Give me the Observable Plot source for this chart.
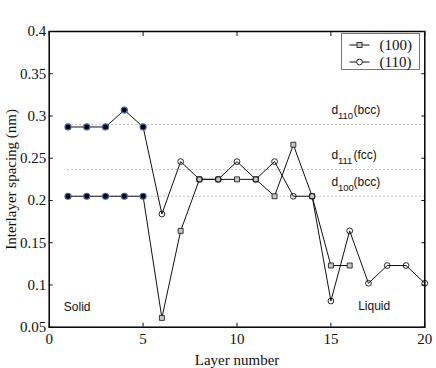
<!DOCTYPE html>
<html><head><meta charset="utf-8">
<script src="https://cdn.jsdelivr.net/npm/d3@7"></script>
<script src="https://cdn.jsdelivr.net/npm/@observablehq/plot@0.6"></script>
<style>
body{margin:0;background:#fff;}
#chart{position:relative;width:436px;height:368px;}
</style></head><body><div id="chart"></div>
<script>
const layers100 = [1,2,3,4,5,6,7,8,9,10,11,12,13,14,15,16];
const spacing100 = [0.205,0.205,0.205,0.205,0.205,0.061,0.164,0.225,0.225,0.225,0.225,0.205,0.266,0.205,0.123,0.123];
const layers110 = [1,2,3,4,5,6,7,8,9,10,11,12,13,14,15,16,17,18,19,20];
const spacing110 = [0.287,0.287,0.287,0.307,0.287,0.184,0.246,0.225,0.225,0.246,0.225,0.246,0.205,0.205,0.081,0.164,0.102,0.123,0.123,0.102];
const solidLastLayer = 5;
const seriesNames = ["(100)","(110)"];

const refSubscripts = ["110","111","100"];
const refPhases = ["(bcc)","(fcc)","(bcc)"];
const refValues = [0.290,0.2366,0.205];
const refLabelY = [0.307,0.2535,0.2215];
const refLabelX = [15.03,15.03,15.03];
const refStart = [1,1,1];
const refEnd = [20,20,20];

const regionNames = ["Solid","Liquid"];
const regionX = [0.78,16.45];
const regionY = [0.0738,0.0745];

const xTicks = [0,5,10,15,20];
const yTicks = [0.05,0.1,0.15,0.2,0.25,0.3,0.35,0.4];

const s100 = layers100.map((x,i)=>({x, y:spacing100[i]}));
const s110 = layers110.map((x,i)=>({x, y:spacing110[i]}));
const refs = refValues.map((v,i)=>({v, sub:refSubscripts[i], phase:refPhases[i], lx:refLabelX[i], ly:refLabelY[i], x1:refStart[i], x2:refEnd[i]}));
const regions = regionNames.map((t,i)=>({t, x:regionX[i], y:regionY[i]}));
const solidPts = [...s100, ...s110].filter(d=>d.x<=solidLastLayer);

const sans = "Liberation Sans, Arial, sans-serif";
const fmt = d3.format("~g");

const chart = Plot.plot({
  width: 436, height: 368,
  marginLeft: 48.7, marginRight: 11.7, marginTop: 31, marginBottom: 41.3,
  style: {fontFamily: "Liberation Serif, Times New Roman, serif", fontSize: "15px", color: "#111", background: "#fff"},
  x: {domain: [0,20]},
  y: {domain: [0.05,0.4]},
  marks: [
    Plot.ruleY(refs, {y:"v", x1:"x1", x2:"x2", stroke:"#9a9a9a", strokeWidth:1, strokeDasharray:"1.2,2.8"}),
    Plot.line(s100, {x:"x", y:"y", stroke:"#111", strokeWidth:1}),
    Plot.line(s110, {x:"x", y:"y", stroke:"#111", strokeWidth:1}),
    Plot.dot(s100.filter(d=>d.x>solidLastLayer), {x:"x", y:"y", symbol:"square", r:2.8, fill:"#c8c8c8", stroke:"#222", strokeWidth:0.9}),
    Plot.dot(s110.filter(d=>d.x>solidLastLayer), {x:"x", y:"y", symbol:"circle", r:2.9, fill:"none", stroke:"#111", strokeWidth:0.9}),
    Plot.dot(solidPts, {x:"x", y:"y", r:3, fill:"#000", stroke:"#4a5fa8", strokeWidth:1.2}),
    Plot.text(refs, {x:"lx", y:"ly", text:()=>"d", textAnchor:"start", fontFamily:sans, fontSize:12, fill:"#111"}),
    Plot.text(refs, {x:"lx", y:"ly", text:"sub", textAnchor:"start", dx:6.5, dy:5.5, fontFamily:sans, fontSize:9.5, fill:"#111"}),
    Plot.text(refs, {x:"lx", y:"ly", text:"phase", textAnchor:"start", dx:22, fontFamily:sans, fontSize:12, fill:"#111"}),
    Plot.text(regions, {x:"x", y:"y", text:"t", textAnchor:"start", fontFamily:sans, fontSize:12, fill:"#111"}),
    Plot.frame({stroke:"#000", strokeWidth:1.5}),
    Plot.axisX(xTicks, {anchor:"bottom", tickSize:0, tickPadding:6, tickFormat:fmt, label:"Layer number", labelAnchor:"center", labelArrow:"none", labelOffset:38}),
    Plot.axisX(xTicks, {anchor:"bottom", tickSize:-4, tickFormat:()=>"", label:null}),
    Plot.axisX(xTicks, {anchor:"top", tickSize:-4, tickFormat:()=>"", label:null}),
    Plot.axisY(yTicks, {anchor:"left", tickSize:0, tickPadding:3, tickFormat:fmt, label:"Interlayer spacing (nm)", labelAnchor:"center", labelArrow:"none", labelOffset:44}),
    Plot.axisY(yTicks, {anchor:"left", tickSize:-4, tickFormat:()=>"", label:null}),
    Plot.axisY(yTicks, {anchor:"right", tickSize:-4, tickFormat:()=>"", label:null})
  ]
});
document.getElementById("chart").appendChild(chart);

// legend
const svg = d3.select(chart);
const lg = svg.append("g").attr("transform","translate(341.5,33.5)");
lg.append("rect").attr("width",78).attr("height",36).attr("fill","#fff").attr("stroke","#777").attr("stroke-width",1);
seriesNames.forEach((name,i)=>{
  const yy = 11.5 + i*17;
  lg.append("line").attr("x1",8).attr("x2",28).attr("y1",yy).attr("y2",yy).attr("stroke","#111").attr("stroke-width",1);
  if(i===0){
    lg.append("rect").attr("x",15.5).attr("y",yy-2.5).attr("width",5).attr("height",5).attr("fill","#c8c8c8").attr("stroke","#222").attr("stroke-width",0.9);
  } else {
    lg.append("circle").attr("cx",18).attr("cy",yy).attr("r",2.9).attr("fill","#fff").attr("stroke","#111").attr("stroke-width",0.9);
  }
  lg.append("text").attr("x",38).attr("y",yy).attr("dy","0.35em").attr("text-anchor","start").attr("font-family","Liberation Serif, serif").attr("font-size",15).attr("fill","#111").text(name);
});
</script></body></html>
